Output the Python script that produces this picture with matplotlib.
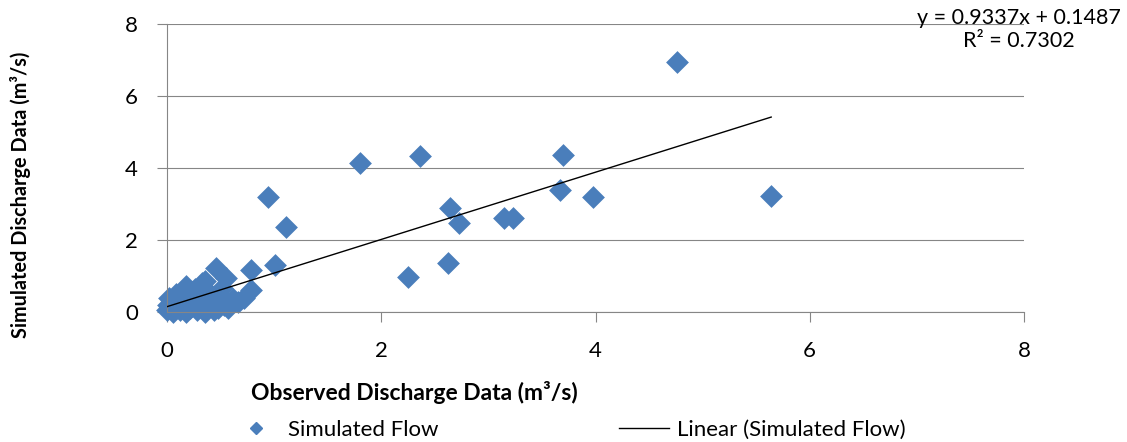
import numpy as np
import matplotlib.pyplot as plt
from matplotlib.lines import Line2D

# observed vs simulated discharge (m3/s)
observed = [
    0.00, 0.01, 0.02, 0.03, 0.05, 0.06, 0.08, 0.09, 0.10, 0.12,
    0.13, 0.15, 0.16, 0.18, 0.18, 0.20, 0.21, 0.23, 0.25, 0.26,
    0.28, 0.30, 0.31, 0.33, 0.35, 0.36, 0.38, 0.40, 0.42, 0.44,
    0.46, 0.48, 0.50, 0.51, 0.53, 0.55, 0.57, 0.60, 0.62, 0.66,
    0.72, 0.78, 0.78, 0.46, 0.55, 0.35,
    0.945, 1.01, 1.115, 1.80, 2.25, 2.36, 2.62, 2.64, 2.73, 3.15,
    3.23, 3.67, 3.70, 3.98, 4.76, 5.64,
]
simulated = [
    0.05, 0.20, 0.40, 0.10, 0.30, 0.00, 0.50, 0.15, 0.35, 0.05,
    0.45, 0.25, 0.60, 0.72, 0.00, 0.40, 0.10, 0.55, 0.20, 0.65,
    0.05, 0.45, 0.30, 0.80, 0.00, 0.60, 0.15, 0.50, 0.35, 0.05,
    0.25, 0.10, 0.40, 0.67, 0.20, 0.30, 0.12, 0.28, 0.35, 0.28,
    0.40, 0.62, 1.17, 1.22, 0.95, 0.85,
    3.20, 1.31, 2.36, 4.15, 0.96, 4.33, 1.35, 2.88, 2.48, 2.60,
    2.60, 3.40, 4.36, 3.19, 6.94, 3.22,
]

slope = 0.9337
intercept = 0.1487
r_squared = 0.7302

x_ticks = [0, 2, 4, 6, 8]
y_ticks = [0, 2, 4, 6, 8]

blue = '#4A7EBB'
gray = '#868686'
font = ['Lato', 'DejaVu Sans']

fig = plt.figure(figsize=(11.27, 4.42), dpi=100)
ax = fig.add_axes([0.1482, 0.2941, 0.7604, 0.6516])

ax.scatter(observed, simulated, marker='D', s=135, color=blue, linewidths=0,
           zorder=2, clip_on=False)

# trendline across the observed range
x_fit = np.array([min(observed), max(observed)])
ax.plot(x_fit, slope * x_fit + intercept, color='black', lw=1.0, zorder=3)

ax.set_xlim(0, 8)
ax.set_ylim(0, 8)
ax.set_xticks(x_ticks)
ax.set_yticks(y_ticks)
ax.set_xticklabels([str(t) for t in x_ticks], family=font, fontsize=16)
ax.set_yticklabels([str(t) for t in y_ticks], family=font, fontsize=16)
ax.tick_params(axis='both', direction='out', length=7, width=0.8, color=gray, pad=14)

ax.yaxis.grid(True, color=gray, lw=0.8)
ax.set_axisbelow(True)
for side in ['top', 'right']:
    ax.spines[side].set_visible(False)
for side in ['left', 'bottom']:
    ax.spines[side].set_color(gray)
    ax.spines[side].set_linewidth(0.8)

ax.set_xlabel('Observed Discharge Data (m\u00b3/s)', family=font, fontsize=16.5, fontweight='bold')
ax.xaxis.set_label_coords(0.289, -0.278)
ax.xaxis.label.set_va('center')
ax.set_ylabel('Simulated Discharge Data (m\u00b3/s)', family=font, fontsize=14.3, fontweight='bold')
ax.yaxis.set_label_coords(-0.1715, 0.406)
ax.yaxis.label.set_va('center')

fig.text(0.904, 0.934, f'y = {slope}x + {intercept}\nR\u00b2 = {r_squared}',
         ha='center', va='center', family=font, fontsize=15.5, linespacing=1.2)

handles = [
    Line2D([], [], marker='D', ms=6, color=blue, ls='none', label='Simulated Flow'),
    Line2D([], [], color='black', lw=1.0, label='Linear (Simulated Flow)'),
]
fig.legend(handles=handles, loc='center', bbox_to_anchor=(0.504, 0.027), ncol=2,
           frameon=False, prop={'family': font, 'size': 16},
           handlelength=2.25, handletextpad=0.35, columnspacing=8.1)

fig.savefig('out.png', dpi=100)
